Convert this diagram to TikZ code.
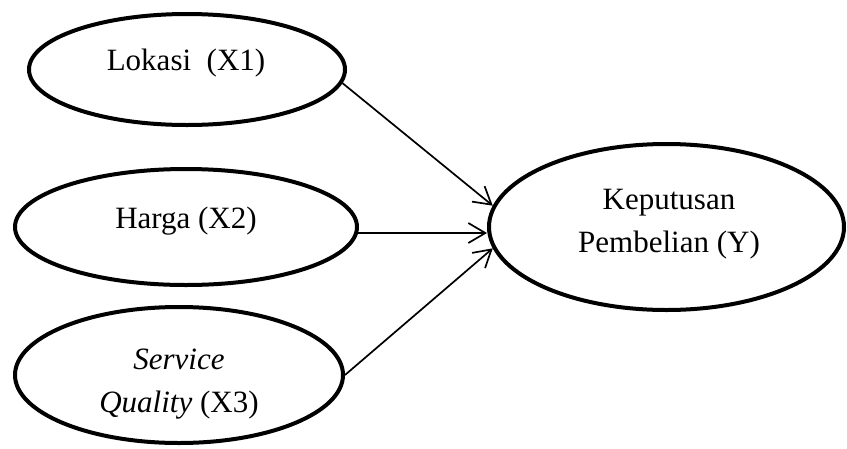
\documentclass[tikz,border=0pt]{standalone}
\usepackage{fontspec}
\setmainfont{Liberation Serif}
\usetikzlibrary{shapes.geometric,arrows.meta}
\begin{document}
\begin{tikzpicture}[x=1pt,y=-1pt,
  oval/.style={ellipse,draw=black,line width=4pt,inner sep=0pt},
  lbl/.style={inner sep=0pt,font=\fontsize{31}{43}\selectfont,align=center},
  arr/.style={line width=1.7pt,-{Straight Barb[length=17pt,width=20pt,line width=1.7pt]}}]
\useasboundingbox (0,0) rectangle (847,448);
\node[oval,minimum width=316pt,minimum height=111pt] (L) at (187,69.5) {};
\node[oval,minimum width=342pt,minimum height=116pt] (H) at (186,227) {};
\node[oval,minimum width=328pt,minimum height=136pt] (S) at (179,375) {};
\node[oval,minimum width=355pt,minimum height=166pt] (Y) at (666.5,227) {};
\node[lbl,anchor=base] (tL) at (186,70) {Lokasi~~(X1)};
\node[lbl,anchor=base] (tH) at (186,228) {Harga (X2)};
\node[lbl] (tS) at (179,384) {\textit{Service}\\\textit{Quality} (X3)};
\node[lbl] (tY) at (669,224) {Keputusan\\Pembelian (Y)};
\draw[arr] (L.-5.6) -- (Y.173.7);
\draw[arr] (H.-2) -- (H.-2 -| Y.west);
\draw[arr] (S.0.7) -- (Y.187.6);
\end{tikzpicture}
\end{document}
